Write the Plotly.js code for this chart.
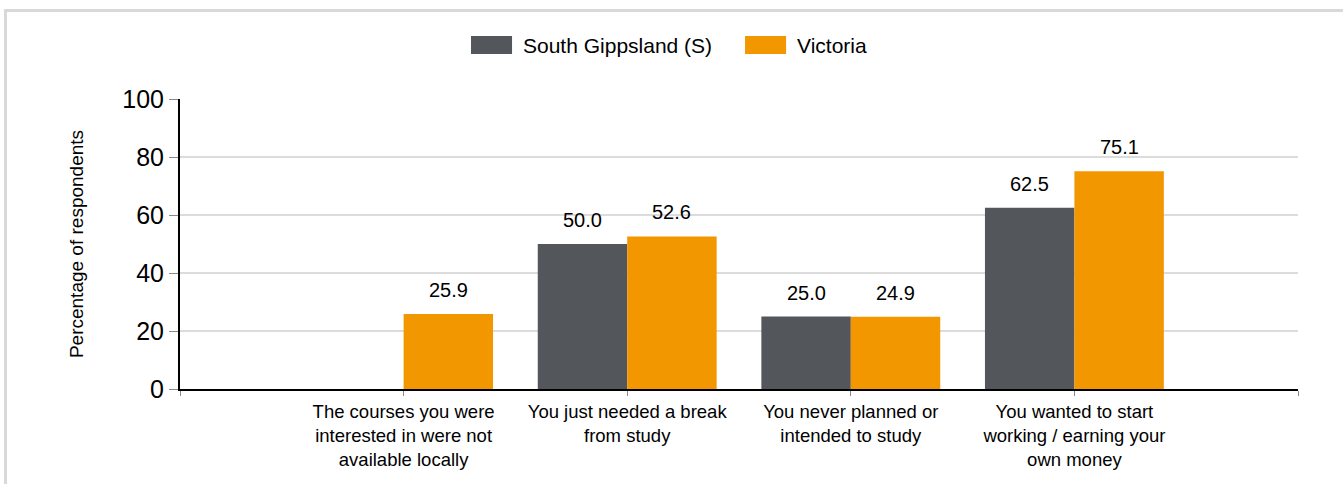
<!DOCTYPE html>
<html>
<head>
<meta charset="utf-8">
<script src="https://cdn.plot.ly/plotly-3.0.1.min.js"></script>
<style>
html,body{margin:0;padding:0;background:#fff;overflow:hidden;}
#frame{position:absolute;left:4px;top:9px;width:1400px;height:520px;border:3px solid #d9d9d9;box-sizing:border-box;}
#chart{position:absolute;left:0;top:0;width:1343px;height:484px;}
</style>
</head>
<body>
<div id="frame"></div>
<div id="chart"></div>
<script>
const categories = [
  "The courses you were<br>interested in were not<br>available locally",
  "You just needed a break<br>from study",
  "You never planned or<br>intended to study",
  "You wanted to start<br>working / earning your<br>own money"
];
const seriesNames = ["South Gippsland (S)", "Victoria"];
const seriesColors = ["#53565a", "#f39700"];
const southGippsland = [null, 50.0, 25.0, 62.5];
const victoria = [25.9, 52.6, 24.9, 75.1];
const yTicks = [0, 20, 40, 60, 80, 100];

const xPos = categories.map((c, i) => i);
const font = "Liberation Sans, Arial, sans-serif";
const bargap = 0.2;
const seriesValues = [southGippsland, victoria];

const traces = seriesValues.map((vals, s) => ({
  type: "bar", name: seriesNames[s], x: xPos, y: vals,
  marker: {color: seriesColors[s]}, showlegend: false
}));

const shapes = [];
const annotations = [];
// value labels above bars
const barW = (1 - bargap) / seriesValues.length;
seriesValues.forEach((vals, s) => {
  const off = -(1 - bargap) / 2 + barW * (s + 0.5);
  vals.forEach((v, i) => {
    if (v == null) return;
    annotations.push({x: i + off, y: v, xref: "x", yref: "y", text: v.toFixed(1),
      showarrow: false, yanchor: "bottom", yshift: 11,
      font: {family: font, size: 20, color: "#000"}});
  });
});
// custom legend (large swatches) in paper coordinates
const legendX = [0.2603, 0.5054];
seriesNames.forEach((n, i) => {
  shapes.push({type: "rect", xref: "paper", yref: "paper",
    x0: legendX[i], x1: legendX[i] + 0.0367, y0: 1.155, y1: 1.217,
    fillcolor: seriesColors[i], line: {width: 0}});
  annotations.push({xref: "paper", yref: "paper", x: legendX[i] + 0.0447, y: 1.186,
    xanchor: "left", yanchor: "middle", showarrow: false, text: n,
    font: {family: font, size: 21, color: "#000"}});
});

const layout = {
  width: 1343, height: 484,
  margin: {l: 180, r: 45, t: 99, b: 95},
  paper_bgcolor: "rgba(0,0,0,0)",
  plot_bgcolor: "rgba(0,0,0,0)",
  barmode: "group", bargap: bargap, bargroupgap: 0,
  font: {family: font, color: "#000"},
  showlegend: false,
  shapes: shapes,
  annotations: annotations,
  xaxis: {
    type: "linear", range: [-1, 4],
    tickvals: [-1, 0, 1, 2, 3, 4],
    ticktext: ["", ...categories, ""],
    showgrid: false, zeroline: false,
    showline: true, linecolor: "#000", linewidth: 2,
    ticks: "outside", ticklen: 5, tickcolor: "#888", tickwidth: 1,
    tickfont: {family: font, size: 18.5, color: "#000"}
  },
  yaxis: {
    range: [0, 100], tickvals: yTicks,
    showgrid: true, gridcolor: "#dcdcdc", gridwidth: 2,
    zeroline: false,
    showline: true, linecolor: "#000", linewidth: 2,
    ticks: "outside", ticklen: 9, tickcolor: "#888", tickwidth: 1,
    tickfont: {family: font, size: 25, color: "#000"},
    title: {text: "Percentage of respondents", font: {family: font, size: 19, color: "#000"}, standoff: 34}
  }
};
Plotly.newPlot("chart", traces, layout, {displayModeBar: false, staticPlot: true});
</script>
</body>
</html>
